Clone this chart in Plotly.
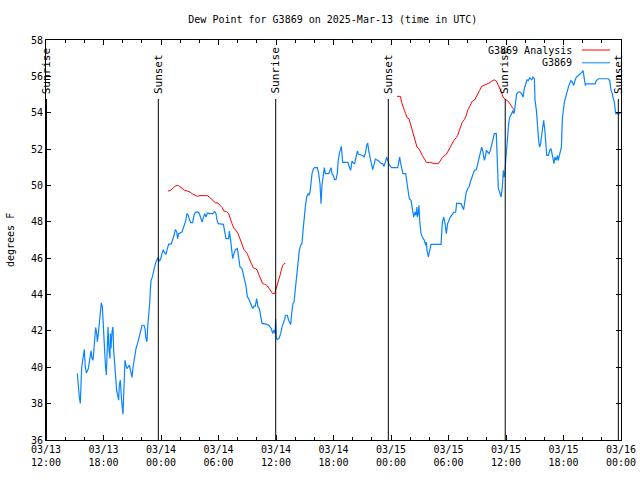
import pandas as pd
import plotly.graph_objects as go

BASE = pd.Timestamp("2025-03-13 12:00")

# G3869 observations: hours since 2025-03-13 12:00 UTC, dew point (F)
obs_hours = [3.27, 3.37, 3.48, 3.58, 3.65, 3.72, 3.83, 3.93, 4.00, 4.10, 4.21, 4.42, 4.59, 4.70, 4.80, 4.90, 4.97,
             5.08, 5.18, 5.29, 5.36, 5.46, 5.57, 5.67, 5.77, 5.88, 5.98, 6.09, 6.19, 6.30, 6.37, 6.47, 6.57, 6.68,
             6.72, 6.78, 6.89, 6.99, 7.06, 7.17, 7.27, 7.37, 7.48, 7.58, 7.65, 7.76, 7.86, 7.93, 8.03, 8.14, 8.16,
             8.24, 8.35, 8.45, 8.70, 8.90, 8.97, 9.08, 9.18, 9.29, 9.39, 9.60, 9.81, 10.02, 10.23, 10.33, 10.43,
             10.54, 10.61, 10.71, 10.82, 10.89, 10.96, 11.10, 11.20, 11.41, 11.55, 11.69, 11.83, 11.97, 12.10,
             12.24, 12.38, 12.52, 12.66, 12.80, 13.08, 13.22, 13.36, 13.50, 13.64, 13.74, 13.84, 14.19, 14.33,
             14.47, 14.57, 14.71, 14.85, 14.99, 15.10, 15.30, 15.44, 15.58, 15.86, 16.00, 16.14, 16.28, 16.42,
             16.56, 16.70, 16.83, 17.18, 17.39, 17.60, 17.74, 17.85, 17.98, 18.51, 18.64, 18.78, 19.06, 19.13,
             19.27, 19.34, 19.48, 19.62, 19.76, 19.97, 20.10, 20.24, 20.45, 20.59, 20.73, 20.87, 21.01, 21.15,
             21.29, 21.57, 21.70, 21.84, 21.98, 22.12, 22.26, 22.40, 22.54, 22.96, 23.24, 23.37, 23.51, 23.65,
             23.79, 23.90, 23.97, 24.03, 24.14, 24.31, 24.49, 24.63, 24.77, 24.91, 24.97, 25.18, 25.32, 25.53,
             25.64, 25.77, 25.88, 26.02, 26.16, 26.30, 26.43, 26.57, 26.71, 26.82, 26.92, 27.06, 27.20, 27.34,
             27.44, 27.55, 27.65, 27.76, 27.90, 28.04, 28.31, 28.45, 28.59, 28.70, 28.80, 28.94, 29.04, 29.15,
             29.50, 29.64, 29.74, 29.84, 29.98, 30.12, 30.26, 30.40, 30.47, 30.61, 30.75, 30.82, 30.96, 31.51,
             31.65, 31.79, 31.93, 32.07, 32.21, 32.35, 32.49, 32.63, 33.04, 33.18, 33.32, 33.46, 33.57, 33.67,
             33.81, 33.95, 34.09, 34.23, 34.37, 34.71, 34.99, 35.13, 35.27, 35.41, 35.55, 35.65, 35.86, 36.07,
             36.70, 36.84, 36.90, 37.01, 37.11, 37.25, 37.53, 37.67, 37.81, 37.91, 38.09, 38.23, 38.37, 38.51,
             38.61, 38.71, 38.75, 38.86, 38.92, 38.99, 39.06, 39.13, 39.27, 39.48, 39.62, 39.69, 39.76, 39.90,
             40.04, 40.17, 41.22, 41.29, 41.36, 41.50, 41.64, 41.77, 41.91, 42.19, 42.54, 42.75, 42.85, 43.31,
             43.44, 43.58, 43.72, 43.86, 44.00, 44.14, 44.28, 44.42, 44.56, 44.70, 44.91, 45.04, 45.18, 45.32,
             45.46, 45.60, 45.74, 45.84, 45.95, 46.09, 46.23, 46.37, 46.51, 46.64, 46.78, 46.99, 47.06, 47.13,
             47.20, 47.34, 47.48, 47.62, 47.72, 47.79, 47.90, 47.97, 48.07, 48.17, 48.28, 48.38, 48.49, 48.59,
             48.73, 48.84, 48.94, 49.01, 49.11, 49.29, 49.46, 49.64, 49.78, 49.91, 50.05, 50.19, 50.33, 50.47,
             50.68, 50.82, 50.96, 51.03, 51.17, 51.31, 51.41, 51.51, 51.62, 51.72, 51.83, 51.93, 52.04, 52.14,
             52.25, 52.42, 52.56, 52.70, 52.80, 52.90, 53.01, 53.11, 53.25, 53.36, 53.46, 53.57, 53.67, 53.78,
             53.88, 53.98, 54.09, 54.23, 54.37, 54.51, 54.64, 54.78, 54.92, 55.06, 55.20, 55.34, 55.55, 55.76,
             55.93, 56.04, 56.18, 56.28, 56.38, 57.29, 57.43, 57.64, 58.68, 58.82, 58.96, 59.10, 59.20, 59.31,
             59.38, 59.45, 59.93]
obs_values = [39.66, 38.92, 38.34, 38.01, 38.92, 39.99, 40.39, 40.76, 40.98, 40.02, 39.69, 39.93, 40.66, 40.90,
              40.48, 40.39, 40.76, 41.31, 42.19, 41.86, 41.40, 41.86, 42.41, 43.18, 43.54, 43.32, 42.41, 40.76,
              40.21, 39.57, 41.31, 42.22, 40.94, 40.48, 41.86, 41.03, 41.95, 42.22, 40.94, 40.02, 39.11, 38.74,
              38.47, 38.19, 39.02, 39.29, 38.37, 38.01, 37.42, 38.92, 39.66, 40.39, 40.12, 39.93, 40.12, 39.66,
              39.44, 39.99, 40.30, 40.57, 41.03, 41.40, 41.86, 42.31, 42.31, 42.13, 41.58, 41.40, 42.22, 42.68,
              43.51, 44.24, 44.79, 44.97, 45.24, 45.70, 45.88, 46.03, 45.83, 45.96, 46.25, 46.47, 46.29, 46.21,
              46.53, 46.76, 46.80, 46.98, 47.26, 47.57, 47.44, 47.08, 47.35, 47.44, 47.63, 47.81, 48.04, 48.45,
              48.36, 48.08, 47.96, 47.96, 48.36, 48.52, 48.54, 48.45, 48.23, 47.99, 48.23, 48.45, 48.26, 48.48,
              48.45, 48.45, 48.56, 48.45, 48.08, 47.90, 47.86, 47.35, 47.08, 47.08, 47.49, 46.98, 46.62, 45.98,
              46.25, 46.47, 46.53, 46.07, 45.52, 45.43, 45.15, 44.79, 44.46, 43.87, 43.78, 43.59, 43.23, 43.36,
              43.36, 43.78, 43.32, 43.23, 42.77, 42.41, 42.37, 42.31, 42.22, 42.13, 41.86, 42.04, 41.86, 42.64,
              41.58, 41.53, 41.58, 41.86, 42.22, 42.41, 42.63, 42.86, 42.86, 42.59, 42.35, 42.96, 43.51, 43.59,
              44.33, 45.15, 45.88, 46.43, 46.71, 46.80, 47.53, 48.26, 48.81, 49.36, 49.55, 49.46, 49.64, 50.10,
              50.65, 50.92, 50.98, 50.98, 50.65, 50.10, 49.00, 50.01, 50.65, 50.98, 50.65, 50.65, 50.83, 50.98,
              50.65, 50.55, 50.32, 50.32, 50.68, 51.27, 51.75, 52.02, 52.15, 51.27, 51.27, 51.01, 50.83, 51.34,
              51.23, 51.20, 51.47, 51.89, 51.71, 51.65, 51.56, 51.75, 52.20, 52.33, 51.93, 51.47, 51.20, 50.87,
              51.23, 51.45, 51.34, 51.20, 51.20, 51.05, 51.29, 51.56, 51.38, 51.10, 50.98, 50.98, 51.38, 51.56,
              51.20, 50.92, 50.65, 50.65, 50.19, 49.82, 49.27, 49.18, 48.81, 48.26, 48.54, 48.36, 48.81, 48.26,
              48.54, 48.91, 48.08, 47.71, 47.35, 47.16, 46.98, 46.71, 46.89, 46.43, 46.07, 46.43, 46.76, 46.76,
              47.35, 47.99, 48.26, 47.90, 47.35, 47.90, 48.26, 48.51, 48.54, 49.03, 49.00, 48.81, 48.67, 49.18,
              49.64, 49.82, 49.91, 50.19, 50.37, 50.65, 50.83, 50.87, 51.20, 51.38, 51.78, 52.11, 51.84, 51.38,
              51.56, 51.93, 51.84, 51.75, 51.93, 52.20, 52.48, 52.85, 52.85, 51.38, 50.46, 49.82, 49.64, 49.36,
              49.91, 50.83, 50.46, 50.74, 51.38, 52.11, 52.85, 53.40, 53.76, 53.85, 53.95, 54.13, 53.95, 54.31,
              54.86, 55.04, 55.13, 55.13, 55.04, 54.86, 55.32, 55.59, 55.81, 55.77, 55.92, 55.81, 55.96, 55.87,
              54.68, 54.13, 52.93, 52.48, 52.11, 52.30, 52.75, 53.12, 53.58, 53.12, 52.11, 51.65, 51.65, 51.93,
              52.02, 51.75, 51.38, 51.20, 51.56, 51.38, 51.65, 51.38, 51.65, 51.93, 52.11, 53.67, 54.31, 54.58,
              54.86, 55.23, 55.41, 55.59, 55.77, 55.68, 55.50, 55.77, 55.96, 56.05, 56.14, 56.23, 56.32, 55.87,
              55.50, 55.59, 55.59, 55.77, 55.87, 55.87, 55.77, 55.23, 55.04, 54.77, 54.58, 54.22, 53.95, 53.95]

# G3869 Analysis: two segments (None = gap)
ana_hours = [12.73, 13.01, 13.29, 13.57, 13.84, 14.05, 14.26, 14.47, 14.75, 15.03, 15.24, 15.51, 15.79, 16.07,
             16.83, 17.04, 17.25, 17.46, 17.67, 17.95, 18.16, 18.37, 18.57, 18.85, 19.06, 19.20, 19.41, 19.62,
             19.83, 20.04, 20.17, 20.31, 20.45, 20.66, 20.87, 21.01, 21.15, 21.29, 21.50, 21.64, 21.84, 22.05,
             22.19, 22.40, 22.61, 22.82, 23.03, 23.17, 23.31, 23.51, 23.65, 23.86, 24.00, 24.14, 24.28, 24.42,
             24.56, 24.70, 24.84, 24.97, 30.0,
             36.63, 36.98, 37.11, 37.25, 37.39, 37.53, 37.67, 37.88, 38.02, 38.16, 38.30, 38.44, 38.57, 38.71,
             38.92, 39.06, 39.27, 39.48, 39.69, 40.10, 40.52, 40.94, 41.15, 41.36, 41.57, 41.77, 41.91, 42.05,
             42.19, 42.33, 42.47, 42.61, 42.82, 42.96, 43.10, 43.24, 43.44, 43.65, 43.86, 44.00, 44.28, 44.49,
             44.70, 44.91, 45.04, 45.25, 45.46, 45.67, 45.95, 46.23, 46.51, 46.78, 46.99, 47.13, 47.27, 47.48,
             47.69, 47.90, 48.11, 48.31, 48.52, 48.73, 48.94]
ana_values = [49.69, 49.73, 49.88, 49.99, 49.99, 49.91, 49.82, 49.73, 49.69, 49.64, 49.55, 49.49, 49.40, 49.44,
              49.44, 49.36, 49.25, 49.14, 49.05, 49.03, 48.91, 48.78, 48.59, 48.56, 48.45, 48.18, 47.90, 47.63,
              47.53, 47.35, 47.16, 46.89, 46.71, 46.47, 46.34, 46.25, 46.03, 45.85, 45.65, 45.46, 45.43, 45.34,
              45.12, 44.88, 44.60, 44.57, 44.51, 44.42, 44.33, 44.18, 44.05, 44.05, 44.27, 44.51, 44.79, 45.06,
              45.34, 45.61, 45.70, 45.70, None,
              54.90, 54.90, 54.58, 54.31, 54.13, 53.95, 53.73, 53.67, 53.40, 53.12, 52.85, 52.57, 52.30, 52.11,
              52.02, 51.84, 51.65, 51.47, 51.27, 51.27, 51.20, 51.20, 51.38, 51.53, 51.65, 51.71, 51.84, 51.97,
              52.08, 52.20, 52.38, 52.52, 52.63, 52.75, 52.99, 53.21, 53.48, 53.62, 53.85, 54.13, 54.40, 54.64,
              54.68, 54.86, 55.04, 55.23, 55.45, 55.50, 55.55, 55.63, 55.74, 55.81, 55.74, 55.59, 55.41, 55.19,
              54.86, 54.77, 54.71, 54.58, 54.40, 54.22, 54.13]

# Sunrise / sunset events (hours since base)
sun_hours = [0.05, 11.72, 23.97, 35.72, 47.92, 59.72]
sun_labels = ["Sunrise", "Sunset", "Sunrise", "Sunset", "Sunrise", "Sunset"]

y_ticks = [36, 38, 40, 42, 44, 46, 48, 50, 52, 54, 56, 58]

def to_time(hours):
    return [None if h is None else BASE + pd.Timedelta(hours=h) for h in hours]

RED = "#ff0000"
BLUE = "#0a84ff"
FONT = "DejaVu Sans Mono"

fig = go.Figure()
fig.add_trace(go.Scatter(x=to_time(ana_hours), y=ana_values, mode="lines", name="G3869 Analysis",
                         line=dict(color=RED, width=1), connectgaps=False, showlegend=False))
fig.add_trace(go.Scatter(x=to_time(obs_hours), y=obs_values, mode="lines", name="G3869",
                         line=dict(color=BLUE, width=1.2), showlegend=False))

sun_top = 0.8525
for h, lab in zip(sun_hours, sun_labels):
    t = BASE + pd.Timedelta(hours=h)
    fig.add_shape(type="line", xref="x", yref="paper", x0=t, x1=t, y0=0, y1=sun_top,
                  line=dict(color="black", width=1))
    fig.add_annotation(x=t, xref="x", y=sun_top + 0.008, yref="paper", text=lab, textangle=-90,
                       showarrow=False, xanchor="center", yanchor="bottom",
                       font=dict(family=FONT, size=11, color="black"))

# legend (gnuplot style: text then line sample)
for i, (name, col) in enumerate([("G3869 Analysis", RED), ("G3869", BLUE)]):
    yy = 0.975 - i * 0.032
    fig.add_annotation(x=0.918, y=yy, xref="paper", yref="paper", text=name, showarrow=False,
                       xanchor="right", yanchor="middle", font=dict(family=FONT, size=10, color="black"))
    fig.add_shape(type="line", xref="paper", yref="paper", x0=0.932, x1=0.981, y0=yy, y1=yy,
                  line=dict(color=col, width=1))

fig.add_annotation(x=-0.0626, y=0.5, xref="paper", yref="paper", text="degrees F", textangle=-90,
                   showarrow=False, xanchor="center", yanchor="middle",
                   font=dict(family=FONT, size=10, color="black"))

fig.update_layout(
    width=640, height=480,
    margin=dict(l=46, r=19, t=40, b=40, autoexpand=False),
    paper_bgcolor="white", plot_bgcolor="white",
    font=dict(family=FONT, size=10, color="black"),
    title=dict(text="Dew Point for G3869 on 2025-Mar-13 (time in UTC)", x=0.52, xanchor="center",
               y=0.96, yanchor="middle", font=dict(family=FONT, size=10, color="black")),
    showlegend=False,
)
fig.update_xaxes(
    type="date", automargin=False,
    range=[BASE, BASE + pd.Timedelta(hours=60)],
    tickmode="linear", tick0=BASE, dtick=6 * 3600 * 1000,
    tickformat="%m/%d<br>%H:%M",
    showgrid=False, zeroline=False,
    showline=True, linecolor="black", linewidth=1, mirror="allticks",
    ticks="inside", ticklen=5, tickcolor="black",
    minor=dict(dtick=2 * 3600 * 1000, ticks="inside", ticklen=3, tickcolor="black", showgrid=False),
)
fig.update_yaxes(
    automargin=False,
    range=[36, 58], tickmode="array", tickvals=y_ticks,
    showgrid=False, zeroline=False,
    showline=True, linecolor="black", linewidth=1, mirror="allticks",
    ticks="inside", ticklen=5, tickcolor="black",
)

fig.write_html("out.html", config={"displayModeBar": False},
               post_script="document.body.style.margin='0px';"
                           "document.body.style.overflow='hidden';")
